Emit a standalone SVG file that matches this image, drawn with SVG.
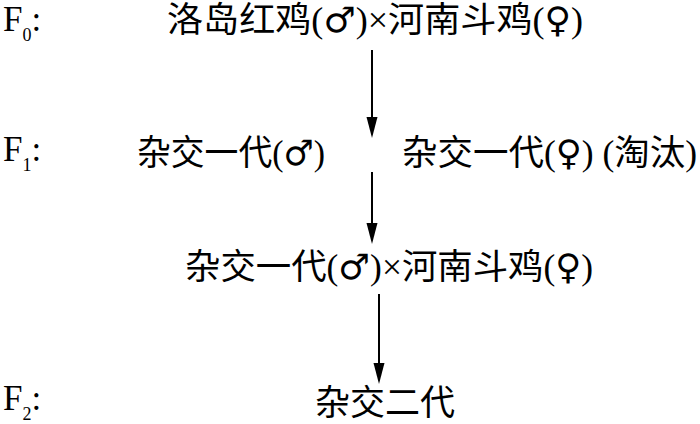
<svg xmlns="http://www.w3.org/2000/svg" width="700" height="424" viewBox="0 0 700 424">
<defs>
<style>
.t{font-family:"Liberation Serif","Noto Sans CJK SC",serif;font-size:35px;fill:#000}
.s{font-family:"DejaVu Sans",sans-serif;font-size:35px;font-weight:normal}
.lab{font-family:"Liberation Serif",serif;font-size:35px;fill:#000}
.sub{font-size:18px}
.ln{stroke:#000;stroke-width:2;fill:none}
</style>
</defs>
<rect width="700" height="424" fill="#fff"/>
<g id="labels">
<text class="lab" x="3" y="31">F<tspan class="sub" dy="10">0</tspan><tspan dy="-10">:</tspan></text>
<text class="lab" x="3" y="161">F<tspan class="sub" dy="10">1</tspan><tspan dy="-10">:</tspan></text>
<text class="lab" x="3" y="410">F<tspan class="sub" dy="10">2</tspan><tspan dy="-10">:</tspan></text>
</g>
<g id="f0">
<text class="t" x="167" y="32" textLength="416" lengthAdjust="spacingAndGlyphs">洛岛红鸡(<tspan class="s">♂</tspan>)×河南斗鸡(<tspan class="s">♀</tspan>)</text>
</g>
<g id="f1-male">
<text class="t" x="137" y="165" textLength="188" lengthAdjust="spacingAndGlyphs">杂交一代(<tspan class="s">♂</tspan>)</text>
</g>
<g id="f1-female">
<text class="t" x="402" y="165" textLength="295" lengthAdjust="spacingAndGlyphs">杂交一代(<tspan class="s">♀</tspan>) (淘汰)</text>
</g>
<g id="cross2">
<text class="t" x="185" y="279" textLength="408" lengthAdjust="spacingAndGlyphs">杂交一代(<tspan class="s">♂</tspan>)×河南斗鸡(<tspan class="s">♀</tspan>)</text>
</g>
<g id="f2">
<text class="t" x="315" y="415" textLength="140" lengthAdjust="spacingAndGlyphs">杂交二代</text>
</g>
<g id="connectors">
<path class="ln" d="M372,50 V120"/>
<path d="M366.5,117 L377.5,117 L372,138 Z" fill="#000"/>
<path class="ln" d="M372,172 V226"/>
<path d="M366.5,223 L377.5,223 L372,244 Z" fill="#000"/>
<path class="ln" d="M379,294 V366"/>
<path d="M373.5,363 L384.5,363 L379,384 Z" fill="#000"/>
</g>
</svg>
